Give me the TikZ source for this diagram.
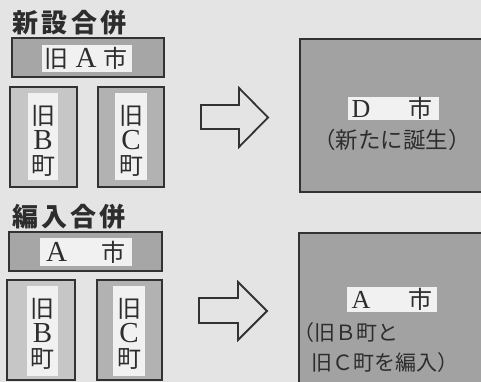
\documentclass[tikz,border=0pt]{standalone}
\usepackage{fontspec}
\setmainfont{Liberation Serif}
\newfontfamily\jp{Noto Sans CJK JP}
\definecolor{paper}{RGB}{228,228,228}
\definecolor{big}{RGB}{162,162,162}
\definecolor{fillA}{RGB}{166,166,166}
\definecolor{fillB}{RGB}{198,198,198}
\definecolor{fillC}{RGB}{178,178,178}
\definecolor{labw}{RGB}{241,241,241}
\definecolor{edge}{RGB}{50,50,50}
\definecolor{ink}{RGB}{45,45,45}
\newcommand{\lat}[1]{{\rmfamily\fontsize{29}{25}\selectfont #1}}
\begin{document}
\begin{tikzpicture}[x=1pt,y=-1pt,
 box/.style={draw=edge, line width=1.6pt, inner sep=0pt, outer sep=0pt, anchor=north west},
 lab/.style={fill=labw, inner sep=0pt, outer sep=0pt, anchor=north west},
 txt/.style={text=ink, inner sep=0pt, font=\jp\fontsize{24}{25}\selectfont},
 vtxt/.style={txt, align=center},
 sub/.style={text=ink, inner sep=0pt, font=\jp\fontsize{21}{21}\selectfont},
 ttl/.style={text=ink, inner sep=0pt, anchor=west, font=\jp\bfseries\fontsize{26}{26}\selectfont},
 blockarrow/.style={draw=edge, line width=1.8pt, line join=miter}]
\clip (0,0) rectangle (481,382);
\fill[paper] (0,0) rectangle (481,382);
% ---------- top: 新設合併 ----------
\node[ttl] (t1) at (12,22.5) {新\kern3.5pt 設\kern3.5pt 合\kern3.5pt 併};
\node[box, fill=fillA, minimum width=152, minimum height=39] (a1) at (12,38) {};
\node[lab, minimum width=90, minimum height=27] (la1) at (42,45) {};
\node[txt] (ta1) at (86,58) {旧\kern7pt\lat{A}\kern7pt 市};
\node[box, fill=fillB, minimum width=67, minimum height=100] (b1) at (10,87) {};
\node[lab, minimum width=30, minimum height=87] (lb1) at (28,93) {};
\node[vtxt] (tb1) at (43,141) {旧\\\lat{B}\\町};
\node[box, fill=fillC, minimum width=66, minimum height=100] (c1) at (98,87) {};
\node[lab, minimum width=32, minimum height=87] (lc1) at (115,93) {};
\node[vtxt] (tc1) at (131,141) {旧\\\lat{C}\\町};
\draw[blockarrow] (201,105) -- (239,105) -- (239,88) -- (268,117.5) -- (239,147) -- (239,129) -- (201,129) -- cycle;
\node[box, fill=big, minimum width=200, minimum height=153] (d) at (300,39) {};
\node[lab, minimum width=91, minimum height=23] (ld) at (348,97) {};
\node[txt] (td) at (392,108.5) {{\rmfamily\fontsize{26}{25}\selectfont D}\kern38pt 市};
\node[sub, font=\jp\fontsize{22.5}{22.5}\selectfont] (td2) at (392,140) {（新たに誕生）};
% ---------- bottom: 編入合併 ----------
\node[ttl] (t2) at (12,216.5) {編\kern3pt 入\kern3pt 合\kern3pt 併};
\node[box, fill=fillA, minimum width=153, minimum height=39] (a2) at (9,232) {};
\node[lab, minimum width=92, minimum height=28] (la2) at (40,238) {};
\node[txt] (ta2) at (86,252) {\lat{A}\kern35pt 市};
\node[box, fill=fillB, minimum width=68, minimum height=100] (b2) at (7,280) {};
\node[lab, minimum width=31, minimum height=90] (lb2) at (27,286) {};
\node[vtxt] (tb2) at (42.5,334) {旧\\\lat{B}\\町};
\node[box, fill=fillC, minimum width=65, minimum height=100] (c2) at (97,280) {};
\node[lab, minimum width=32, minimum height=90] (lc2) at (113,286) {};
\node[vtxt] (tc2) at (129,334) {旧\\\lat{C}\\町};
\draw[blockarrow] (199,298) -- (238,298) -- (238,282) -- (267,311) -- (238,340) -- (238,323) -- (199,323) -- cycle;
\node[box, fill=big, minimum width=200, minimum height=170] (e) at (299,233) {};
\node[lab, minimum width=90, minimum height=25] (le) at (347,287) {};
\node[txt] (te) at (392,299.5) {{\rmfamily\fontsize{26}{25}\selectfont A}\kern38pt 市};
\node[sub, anchor=west] (te2) at (293,332.5) {（旧Ｂ町と};
\node[sub, anchor=west] (te3) at (311,363) {旧Ｃ町を編入）};
\end{tikzpicture}
\end{document}
